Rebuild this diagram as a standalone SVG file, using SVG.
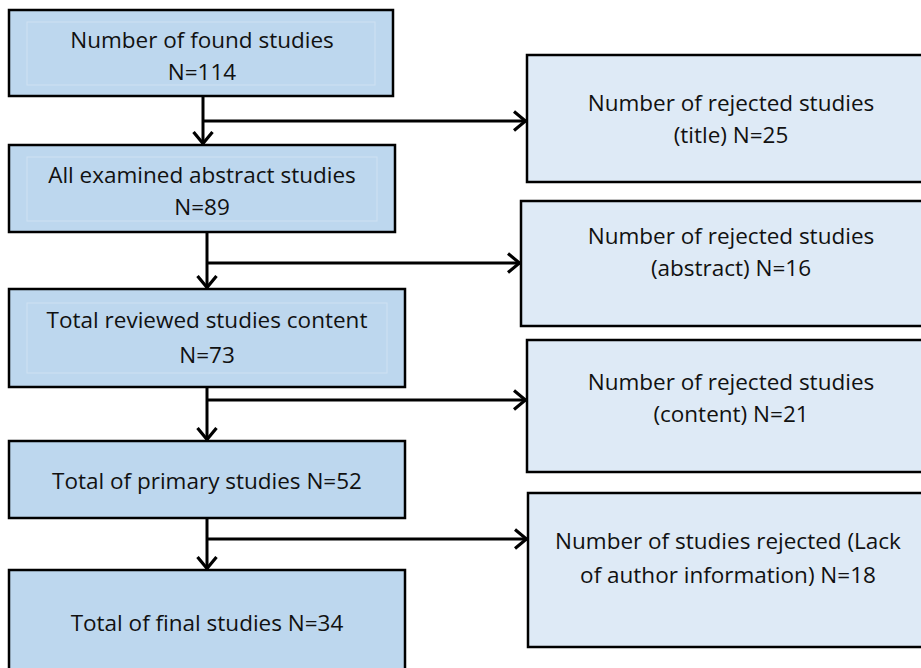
<svg xmlns="http://www.w3.org/2000/svg" width="921" height="668" viewBox="0 0 921 668">
<style>
.bg{fill:#ffffff}
.main rect.box{fill:#BDD7EE;stroke:#000;stroke-width:2.5}
.rej rect.box{fill:#DEEAF6;stroke:#000;stroke-width:2.5}
rect.inner{fill:none;stroke:#cfe1f2;stroke-width:1}
text{font-family:"Open Sans","Liberation Sans",sans-serif;font-size:22.5px;fill:#111;text-anchor:middle}
.conn line,.conn path{stroke:#000;stroke-width:3;fill:none}
</style>
<defs>
<marker id="arr" viewBox="0 0 14 22" refX="13" refY="11" markerWidth="14" markerHeight="22" markerUnits="userSpaceOnUse" orient="auto">
<path d="M1,1.5 L12.5,11 L1,20.5" fill="none" stroke="#000" stroke-width="3.2"/>
</marker>
</defs>
<rect class="bg" x="0" y="0" width="921" height="668"/>

<g id="n1" class="main">
<rect class="box" x="9" y="10" width="384" height="86"/>
<rect class="inner" x="27" y="22" width="348" height="63"/>
<text x="202" y="48">Number of found studies</text>
<text x="202" y="80">N=114</text>
</g>
<g id="n2" class="main">
<rect class="box" x="9" y="145" width="386" height="87"/>
<rect class="inner" x="27" y="157" width="350" height="64"/>
<text x="202" y="183">All examined abstract studies</text>
<text x="202" y="215">N=89</text>
</g>
<g id="n3" class="main">
<rect class="box" x="9" y="289" width="396" height="98"/>
<rect class="inner" x="27" y="303" width="360" height="70"/>
<text x="207" y="328">Total reviewed studies content</text>
<text x="207" y="363">N=73</text>
</g>
<g id="n4" class="main">
<rect class="box" x="9" y="441" width="396" height="77"/>
<text x="207" y="489">Total of primary studies N=52</text>
</g>
<g id="n5" class="main">
<rect class="box" x="9" y="570" width="396" height="110"/>
<text x="207" y="631">Total of final studies N=34</text>
</g>

<g id="r1" class="rej">
<rect class="box" x="527" y="55" width="400" height="127"/>
<text x="731" y="111">Number of rejected studies</text>
<text x="731" y="143">(title) N=25</text>
</g>
<g id="r2" class="rej">
<rect class="box" x="521" y="201" width="406" height="125"/>
<text x="731" y="244">Number of rejected studies</text>
<text x="731" y="276">(abstract) N=16</text>
</g>
<g id="r3" class="rej">
<rect class="box" x="527" y="340" width="400" height="132"/>
<text x="731" y="390">Number of rejected studies</text>
<text x="731" y="422">(content) N=21</text>
</g>
<g id="r4" class="rej">
<rect class="box" x="528" y="493" width="400" height="154"/>
<text x="728" y="549">Number of studies rejected (Lack</text>
<text x="728" y="583">of author information) N=18</text>
</g>

<g id="connectors" class="conn">
<line x1="203" y1="96" x2="203" y2="144" marker-end="url(#arr)"/>
<line x1="203" y1="121" x2="526" y2="121" marker-end="url(#arr)"/>
<line x1="207" y1="232" x2="207" y2="288" marker-end="url(#arr)"/>
<line x1="207" y1="263" x2="520" y2="263" marker-end="url(#arr)"/>
<line x1="207" y1="387" x2="207" y2="440" marker-end="url(#arr)"/>
<line x1="207" y1="400" x2="526" y2="400" marker-end="url(#arr)"/>
<line x1="207" y1="518" x2="207" y2="569" marker-end="url(#arr)"/>
<line x1="207" y1="539" x2="527" y2="539" marker-end="url(#arr)"/>
</g>
</svg>
